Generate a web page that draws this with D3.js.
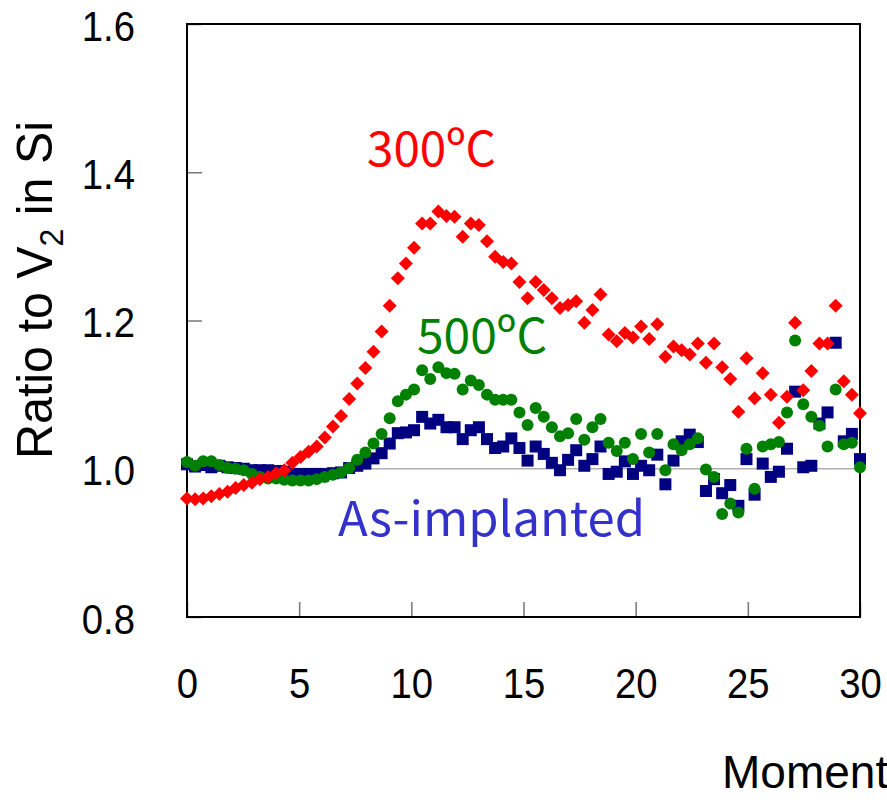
<!DOCTYPE html>
<html>
<head>
<meta charset="utf-8">
<script src="https://cdn.jsdelivr.net/npm/d3@7"></script>
<style>
  html, body { margin: 0; padding: 0; background: #fff; }
  svg { display: block; }
</style>
</head>
<body>
<svg id="chart" width="887" height="802"></svg>
<script>
// Moment axis range; samples are evenly spaced across it
const momentRange = [0, 30];
const xTickValues = [0, 5, 10, 15, 20, 25, 30];
const yTickValues = [0.8, 1.0, 1.2, 1.4, 1.6];

// Ratio to V2 in Si, one value per moment sample
const ratio300C = [
  0.960, 0.959, 0.960, 0.963, 0.966, 0.969, 0.974, 0.978, 0.981, 0.986,
  0.989, 0.994, 0.998, 1.008, 1.016, 1.023, 1.030, 1.042, 1.057, 1.071,
  1.094, 1.115, 1.136, 1.158, 1.185, 1.220, 1.257, 1.277, 1.298, 1.331,
  1.331, 1.347, 1.341, 1.340, 1.313, 1.331, 1.329, 1.307, 1.286, 1.279,
  1.277, 1.252, 1.230, 1.252, 1.241, 1.230, 1.217, 1.221, 1.226, 1.197,
  1.214, 1.235, 1.181, 1.172, 1.183, 1.177, 1.192, 1.175, 1.195, 1.151,
  1.165, 1.160, 1.154, 1.169, 1.143, 1.169, 1.137, 1.121, 1.077, 1.149,
  1.095, 1.129, 1.100, 1.062, 1.097, 1.197, 1.106, 1.132, 1.169, 1.169,
  1.220, 1.118, 1.100, 1.075
];
const ratio500C = [
  1.009, 1.004, 1.010, 1.010, 1.005, 1.001, 1.000, 0.998, 0.993, 0.989,
  0.987, 0.987, 0.985, 0.984, 0.984, 0.984, 0.986, 0.989, 0.992, 0.995,
  1.001, 1.012, 1.022, 1.034, 1.047, 1.068, 1.091, 1.100, 1.107, 1.133,
  1.121, 1.137, 1.129, 1.128, 1.107, 1.119, 1.113, 1.100, 1.093, 1.093,
  1.093, 1.076, 1.059, 1.082, 1.070, 1.056, 1.044, 1.048, 1.067, 1.039,
  1.056, 1.067, 1.035, 1.024, 1.035, 1.013, 1.047, 1.022, 1.047, 0.998,
  1.033, 1.025, 1.033, 1.041, 0.999, 0.989, 0.939, 0.953, 0.941, 1.027,
  0.973, 1.030, 1.033, 1.036, 1.076, 1.173, 1.087, 1.070, 1.058, 1.030,
  1.107, 1.033, 1.035, 1.002
];
const ratioAsImplanted = [
  1.006, 1.003, 1.005, 1.002, 1.004, 1.002, 1.001, 1.000, 0.998, 0.998,
  0.998, 0.997, 0.996, 0.993, 0.993, 0.993, 0.993, 0.993, 0.994, 0.995,
  1.001, 1.004, 1.007, 1.014, 1.021, 1.034, 1.048, 1.049, 1.052, 1.070,
  1.061, 1.066, 1.056, 1.056, 1.040, 1.052, 1.056, 1.040, 1.028, 1.030,
  1.041, 1.028, 1.011, 1.030, 1.020, 1.008, 0.998, 1.012, 1.025, 1.004,
  1.013, 1.030, 0.993, 0.996, 1.010, 0.993, 1.004, 0.998, 1.019, 0.979,
  1.011, 1.037, 1.046, 1.036, 0.970, 0.986, 0.967, 0.978, 0.950, 1.013,
  0.965, 1.007, 0.989, 0.996, 1.027, 1.104, 1.002, 1.004, 1.061, 1.076,
  1.170, 1.037, 1.047, 1.013
];

const svg = d3.select("#chart");
const plot = { left: 187, right: 860, top: 24, bottom: 617 };

const x = d3.scaleLinear().domain(momentRange).range([plot.left, plot.right]);
const y = d3.scaleLinear().domain([0.8, 1.6]).range([plot.bottom, plot.top]);

const momentStep = (momentRange[1] - momentRange[0]) / (ratio300C.length - 1);
const toPoints = vals => vals.map((v, i) => ({ m: momentRange[0] + i * momentStep, v }));

// Reference line at ratio 1.0
svg.append("line")
  .attr("x1", x(momentRange[0])).attr("x2", x(momentRange[1]))
  .attr("y1", y(1)).attr("y2", y(1))
  .attr("stroke", "#b0b0b0").attr("stroke-width", 1.6);

// Inward ticks and their labels
const tickFont = "'Liberation Sans', Arial, sans-serif";
const xAxis = svg.append("g")
  .attr("transform", `translate(0,${plot.bottom})`)
  .call(d3.axisBottom(x).tickValues(xTickValues).tickSizeInner(-15).tickSizeOuter(0).tickFormat(d3.format("d")));
xAxis.select(".domain").remove();
xAxis.selectAll("line").attr("stroke", "#777").attr("stroke-width", 1.5);
xAxis.selectAll("text")
  .attr("x", 0).attr("y", 0).attr("dy", null)
  .attr("transform", "translate(0,81) scale(0.89,1)")
  .attr("font-family", tickFont).attr("font-size", 43).attr("fill", "#000")
  .attr("text-anchor", "middle");

const yAxis = svg.append("g")
  .attr("transform", `translate(${plot.left},0)`)
  .call(d3.axisLeft(y).tickValues(yTickValues).tickSizeInner(-15).tickSizeOuter(0).tickFormat(d3.format(".1f")));
yAxis.select(".domain").remove();
yAxis.selectAll("line").attr("stroke", "#777").attr("stroke-width", 1.5);
yAxis.selectAll("text")
  .attr("x", 0).attr("y", 0).attr("dy", null)
  .attr("transform", "translate(-52,16) scale(0.89,1)")
  .attr("font-family", tickFont).attr("font-size", 43).attr("fill", "#000")
  .attr("text-anchor", "end");

// Plot frame
svg.append("rect")
  .attr("x", plot.left).attr("y", plot.top)
  .attr("width", plot.right - plot.left).attr("height", plot.bottom - plot.top)
  .attr("fill", "none").attr("stroke", "#000").attr("stroke-width", 2);

// Markers: as-implanted squares, 500ºC circles, 300ºC diamonds
svg.append("g").selectAll("rect")
  .data(toPoints(ratioAsImplanted)).join("rect")
  .attr("x", d => x(d.m) - 6).attr("y", d => y(d.v) - 6)
  .attr("width", 12).attr("height", 12)
  .attr("fill", "#000080");

svg.append("g").selectAll("circle")
  .data(toPoints(ratio500C)).join("circle")
  .attr("cx", d => x(d.m)).attr("cy", d => y(d.v)).attr("r", 6)
  .attr("fill", "#008000");

const diamond = r => `M0,${-r}L${r},0L0,${r}L${-r},0Z`;
svg.append("g").selectAll("path")
  .data(toPoints(ratio300C)).join("path")
  .attr("transform", d => `translate(${x(d.m)},${y(d.v)})`)
  .attr("d", diamond(7))
  .attr("fill", "#ff0000");

// Series labels
const labelFont = "'Noto Sans CJK JP', 'Noto Sans', sans-serif";
const seriesLabels = [
  { text: "300ºC", x: 367, y: 166, len: 129, color: "#ff0000" },
  { text: "500ºC", x: 417, y: 353, len: 130, color: "#008000" },
  { text: "As-implanted", x: 338, y: 536, len: 307, color: "#3333cc" }
];
svg.append("g").selectAll("text")
  .data(seriesLabels).join("text")
  .attr("x", d => d.x).attr("y", d => d.y)
  .attr("textLength", d => d.len).attr("lengthAdjust", "spacingAndGlyphs")
  .attr("font-family", labelFont).attr("font-size", 48)
  .attr("fill", d => d.color)
  .text(d => d.text);

// Axis titles
const yTitle = svg.append("text")
  .attr("font-family", tickFont).attr("font-size", 50).attr("fill", "#000")
  .attr("text-anchor", "middle");
yTitle.append("tspan").text("Ratio to V");
yTitle.append("tspan").attr("font-size", 33).attr("dy", 11).text("2");
yTitle.append("tspan").attr("dy", -11).text(" in Si");
const titleLen = yTitle.node().getComputedTextLength();
yTitle.attr("transform", `translate(52,290) rotate(-90) scale(${338 / titleLen},1)`);

svg.append("text")
  .attr("x", 722).attr("y", 788)
  .attr("font-family", tickFont).attr("font-size", 46).attr("fill", "#000")
  .text("Moment");
</script>
</body>
</html>
